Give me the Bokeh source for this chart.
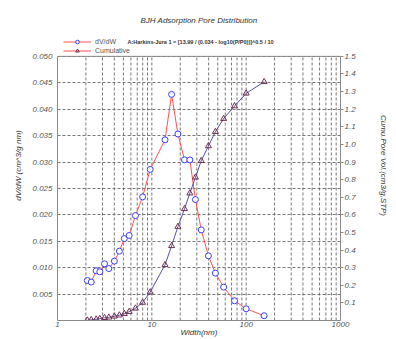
from bokeh.plotting import figure
from bokeh.models import (Range1d, LinearAxis, FixedTicker, PrintfTickFormatter,
                          Legend, LegendItem, Label)
from bokeh.embed import file_html
from bokeh.resources import INLINE

# ---- data ----
width_nm = [2.07, 2.28, 2.57, 2.81, 3.15, 3.50, 4.01, 4.53, 5.11, 5.75, 6.7, 7.98,
            9.6, 13.8, 16.2, 18.9, 22.2, 25.3, 29.0, 33.4, 39.8, 47.2, 57.7, 75.3,
            100.0, 155.0]
dv_dw = [0.00757, 0.00727, 0.0094, 0.00922, 0.01073, 0.00983, 0.01124, 0.01313,
         0.0155, 0.0161, 0.01985, 0.0234, 0.0286, 0.0342, 0.0428, 0.0353, 0.0304,
         0.0304, 0.0229, 0.01715, 0.01224, 0.00897, 0.00632, 0.00373, 0.00222, 0.0009]
cumulative = [0.0014, 0.004, 0.007, 0.0099, 0.0156, 0.018, 0.024, 0.030, 0.038,
              0.050, 0.069, 0.102, 0.161, 0.316, 0.424, 0.533, 0.634, 0.723, 0.813,
              0.907, 0.991, 1.072, 1.146, 1.218, 1.290, 1.355]

x_major_ticks = [1, 10, 100, 1000]
x_minor_ticks = [2, 3, 4, 5, 6, 7, 8, 9, 20, 30, 40, 50, 60, 70, 80, 90,
                 200, 300, 400, 500, 600, 700, 800, 900]
left_ticks = [0.005, 0.010, 0.015, 0.020, 0.025, 0.030, 0.035, 0.040, 0.045, 0.050]
right_ticks = [0.1, 0.2, 0.3, 0.4, 0.5, 0.6, 0.7, 0.8, 0.9, 1.0, 1.1, 1.2, 1.3, 1.4, 1.5]
left_max = 0.05
right_max = 1.5

title_text = "BJH Adsorption Pore Distribution"
method_text = "A:Harkins-Jura 1 = [13.99 / (0.034 - log10(P/P0))]^0.5 / 10"
series_names = ["dV/dW", "Cumulative"]
x_title = "Width(nm)"
left_title = "dV/dW (cm^3/g nm)"
right_title = "Cumu.Pore Vol.(cm3/g,STP)"

FONT = "Liberation Sans"
TXT = "#555555"
GRID = "#555555"
FRAME = "#8a8a8a"

# layout (pixels): data box is 265 px tall, frame extends 46 px above it
DATA_H = 265
TOP_EXTRA = 46
scale_up = (DATA_H + TOP_EXTRA) / DATA_H

p = figure(width=390, height=339, x_axis_type="log",
           x_range=Range1d(1, 1000), y_range=Range1d(0, left_max * scale_up),
           output_backend="svg", toolbar_location=None,
           min_border_left=57, min_border_right=49, min_border_top=10,
           min_border_bottom=18)
p.title.visible = False
p.background_fill_color = "white"
p.border_fill_color = "white"
p.outline_line_color = None

p.extra_y_ranges = {"cum": Range1d(0, right_max * scale_up)}

# bottom axis
xa = p.xaxis[0]
xa.ticker = FixedTicker(ticks=x_major_ticks, minor_ticks=x_minor_ticks)
xa.formatter = PrintfTickFormatter(format="%d")
xa.major_tick_out = 0
xa.major_tick_in = 0
xa.minor_tick_out = 0
xa.minor_tick_in = 0
xa.major_label_standoff = 1
xa.axis_line_color = FRAME
xa.major_label_text_font = FONT
xa.major_label_text_font_style = "italic"
xa.major_label_text_font_size = "8px"
xa.major_label_text_color = TXT
xa.axis_label = x_title
xa.axis_label_standoff = -2
xa.axis_label_text_font = FONT
xa.axis_label_text_font_style = "italic"
xa.axis_label_text_font_size = "8px"
xa.axis_label_text_color = "#333333"

# left axis
ya = p.yaxis[0]
ya.bounds = (0, left_max)
ya.ticker = FixedTicker(ticks=left_ticks)
ya.formatter = PrintfTickFormatter(format="%.3f")
ya.major_tick_out = 0
ya.major_tick_in = 0
ya.minor_tick_out = 0
ya.minor_tick_in = 0
ya.major_label_standoff = 5
ya.axis_line_color = FRAME
ya.major_label_text_font = FONT
ya.major_label_text_font_style = "italic"
ya.major_label_text_font_size = "8px"
ya.major_label_text_color = TXT
ya.axis_label = left_title
ya.axis_label_standoff = 6
ya.axis_label_text_font = FONT
ya.axis_label_text_font_style = "italic"
ya.axis_label_text_font_size = "8px"
ya.axis_label_text_color = "#333333"

# right axis
ra = LinearAxis(y_range_name="cum", ticker=FixedTicker(ticks=right_ticks),
                formatter=PrintfTickFormatter(format="%.1f"), bounds=(0, right_max))
ra.major_tick_out = 3
ra.major_tick_in = 0
ra.minor_tick_out = 0
ra.minor_tick_in = 0
ra.major_tick_line_color = FRAME
ra.major_label_standoff = 1
ra.axis_line_color = FRAME
ra.major_label_text_font = FONT
ra.major_label_text_font_style = "italic"
ra.major_label_text_font_size = "8px"
ra.major_label_text_color = TXT
ra.axis_label = right_title
ra.axis_label_standoff = 20
ra.axis_label_text_font = FONT
ra.axis_label_text_font_style = "italic"
ra.axis_label_text_font_size = "8px"
ra.axis_label_text_color = "#333333"
p.add_layout(ra, "right")

# grids: horizontal from left ticks, vertical drawn only over the data box
p.xgrid.visible = False
p.ygrid.grid_line_color = GRID
p.ygrid.grid_line_dash = "3 2"
p.ygrid.grid_line_width = 0.8

grid_x = [t for t in sorted(x_minor_ticks + x_major_ticks)
          if x_major_ticks[0] < t < x_major_ticks[-1]]
p.segment(x0=grid_x, y0=[0] * len(grid_x), x1=grid_x, y1=[left_max] * len(grid_x),
          line_color=GRID, line_dash="3 2", line_width=0.8)
# top edge of the data box
p.segment(x0=[x_major_ticks[0]], y0=[left_max], x1=[x_major_ticks[-1]], y1=[left_max],
          line_color=FRAME, line_width=1)

# series
RED = "#ff5050"
BLUE = "#3c3cff"
SLATE = "#5252a8"
TRI = "#74304e"

line_dv = p.line(width_nm, dv_dw, line_color=RED, line_width=1)
sc_dv = p.scatter(width_nm, dv_dw, marker="circle", size=6, line_color=BLUE,
                  fill_color="white", line_width=1)
line_cum = p.line(width_nm, cumulative, line_color=SLATE, line_width=1,
                  y_range_name="cum")
sc_cum = p.scatter(width_nm, cumulative, marker="triangle", size=6, line_color=TRI,
                   fill_color=None, line_width=1, y_range_name="cum")

legend = Legend(items=[LegendItem(label=series_names[0], renderers=[line_dv, sc_dv]),
                       LegendItem(label=series_names[1], renderers=[line_dv, sc_cum])],
                location=(6, 265), orientation="vertical",
                glyph_width=28, glyph_height=9, label_height=9, label_width=20,
                label_standoff=4, spacing=0, padding=0, margin=0,
                border_line_color=None, background_fill_alpha=0,
                label_text_font=FONT, label_text_font_size="7px",
                label_text_color=TXT)
p.add_layout(legend)

p.add_layout(Label(x=70, y=278.5, x_units="screen", y_units="screen",
                   text=method_text, text_font=FONT, text_font_size="5.5px",
                   text_font_style="bold", text_color="#333333",
                   text_baseline="middle", text_align="left"))
p.add_layout(Label(x=141.5, y=300, x_units="screen", y_units="screen",
                   text=title_text, text_font=FONT, text_font_size="8px",
                   text_font_style="italic", text_color="#333333",
                   text_baseline="middle", text_align="center"))

open("out.html", "w").write(file_html(p, INLINE))
